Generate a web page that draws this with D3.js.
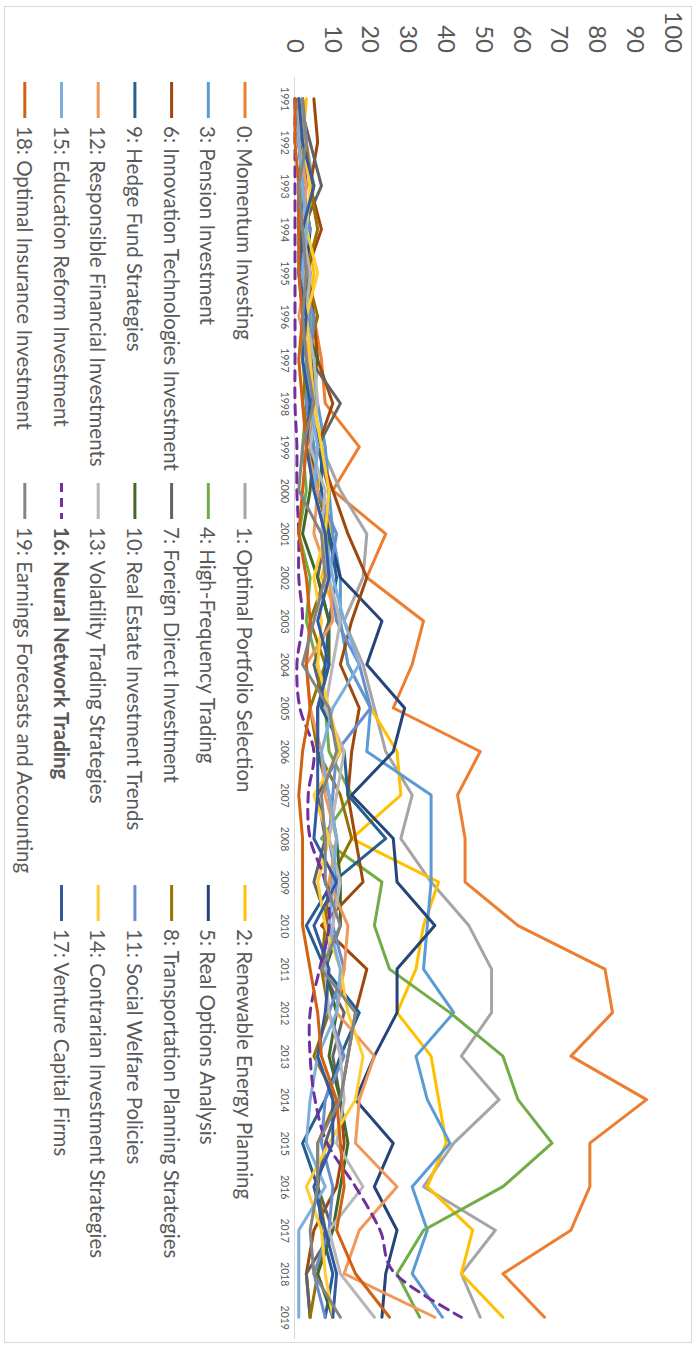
<!DOCTYPE html>
<html>
<head>
<meta charset="utf-8">
<script src="https://cdn.jsdelivr.net/npm/d3@7"></script>
<style>
  html, body { margin: 0; padding: 0; background: #fff; }
  svg { display: block; }
  text { font-family: Lato, "Open Sans", sans-serif; fill: #595959; }
</style>
</head>
<body>
<svg id="chart" width="696" height="1349"></svg>
<script>
const years = d3.range(1991, 2020);
const valueTicks = [0,10,20,30,40,50,60,70,80,90,100];

const seriesNames = [
  "0: Momentum Investing", "1: Optimal Portfolio Selection", "2: Renewable Energy Planning",
  "3: Pension Investment", "4: High-Frequency Trading", "5: Real Options Analysis",
  "6: Innovation Technologies Investment", "7: Foreign Direct Investment", "8: Transportation Planning Strategies",
  "9: Hedge Fund Strategies", "10: Real Estate Investment Trends", "11: Social Welfare Policies",
  "12: Responsible Financial Investments", "13: Volatility Trading Strategies", "14: Contrarian Investment Strategies",
  "15: Education Reform Investment", "16: Neural Network Trading", "17: Venture Capital Firms",
  "18: Optimal Insurance Investment", "19: Earnings Forecasts and Accounting"
];
const seriesColors = [
  "#ED7D31", "#A5A5A5", "#FFC000", "#5B9BD5", "#70AD47", "#264478",
  "#9E480E", "#636363", "#997300", "#255E91", "#43682B", "#698ED0",
  "#F1975A", "#B7B7B7", "#FFCD33", "#7CAFDD", "#7030A0", "#335AA1",
  "#D26012", "#848484"
];

const s0  = [1,2,1,2,3,5,7,8,17,10,24,19,34,31,26,49,43,45,45,59,82,84,73,93,78,78,73,55,66];
const s1  = [2,3,5,3,4,4,6,5,7,12,19,18,13,18,21,24,31,28,36,46,52,52,44,54,42,34,53,44,49];
const s2  = [3,2,5,3,5,4,6,4,8,6,10,7,12,14,20,27,28,15,38,34,32,27,36,38,40,35,47,44,55];
const s3  = [1,2,2,3,2,4,4,6,8,9,10,12,12,14,20,19,36,36,36,35,34,42,32,35,41,31,35,31,39];
const s4  = [0,1,2,1,1,2,2,3,2,3,1,4,3,6,8,9,15,7,23,21,25,41,55,59,68,55,34,27,33];
const s5  = [2,1,2,4,3,3,5,4,3,6,9,12,23,19,29,26,15,26,27,37,27,27,21,16,26,21,27,24,23];
const s6  = [5,6,4,7,3,5,6,10,6,10,14,19,15,12,17,15,14,16,18,7,19,16,14,12,13,11,5,3,4];
const s7  = [1,4,7,2,2,3,4,12,6,9,8,6,9,5,8,12,6,8,5,9,7,13,10,12,8,6,10,3,4];
const s8  = [2,3,4,6,3,6,3,2,4,6,9,8,4,8,4,6,12,15,9,8,7,9,5,11,6,6,8,6,4];
const s9  = [0,2,3,1,2,3,5,3,7,7,9,11,9,8,7,13,14,24,10,3,8,17,12,8,2,6,7,10,8];
const s10 = [1,2,1,1,4,2,6,3,5,4,2,6,9,9,6,6,9,11,12,12,8,11,9,12,14,12,10,6,10];
const s11 = [1,3,2,4,1,5,4,3,5,6,11,9,11,17,20,11,10,9,11,10,13,9,13,8,7,10,9,5,8];
const s12 = [1,1,3,2,3,1,4,5,3,6,5,9,10,3,4,7,8,11,9,14,13,11,21,17,16,27,17,13,37];
const s13 = [2,3,1,2,4,3,5,6,4,8,7,9,12,10,8,13,11,9,12,10,8,9,12,13,11,18,9,12,21];
const s14 = [1,2,4,3,6,3,4,5,7,9,8,5,7,6,9,12,5,9,6,8,12,14,18,16,9,3,7,8,10];
const s15 = [0,1,2,3,2,2,3,4,6,5,8,10,13,17,10,7,9,11,10,9,12,11,6,4,3,8,1,1,1];
const s16 = [0,0,0,0,0,0,0,0,0.5,0.5,1,1,2,0.5,1.3,5,3.5,4,8,9,6.5,4,4,5.3,8.5,16,22.5,26.5,44];
const s17 = [1,2,5,2,1,3,2,4,3,5,8,9,6,9,6,6,6,5,11,5,9,8,6,10,10,5,8,11,10];
const s18 = [0,0,1,1,1,2,1,2,3,2,1,3,4,3,4,2,1,2,2,2,4,6,7,11,12,13,11,16,25];
const s19 = [2,3,1,2,3,2,3,5,2,1,7,8,5,2,9,11,7,8,8,12,7,16,14,12,6,6,4,5,12];

const seriesValues = [s0,s1,s2,s3,s4,s5,s6,s7,s8,s9,s10,s11,s12,s13,s14,s15,s16,s17,s18,s19];
const highlighted = 16;

// ---- layout in the chart's own (landscape) frame, then rotated onto the page ----
const W = 1349, H = 696;
const svg = d3.select("#chart");
const root = svg.append("g").attr("transform", `translate(${H},0) rotate(90)`);

// chart border
root.append("rect")
  .attr("x", 6.5).attr("y", 4.5).attr("width", W - 13).attr("height", H - 9)
  .attr("fill", "#fff").attr("stroke", "#D9D9D9").attr("stroke-width", 1);

const x = d3.scalePoint().domain(years).range([77, 1339]).padding(0.5);
const y = d3.scaleLinear().domain([0, 100]).range([401, 23]);

// value axis (labels only)
const yAxis = d3.axisLeft(y).tickValues(valueTicks).tickSize(0).tickPadding(9);
const yg = root.append("g").attr("transform", "translate(62,0)").call(yAxis);
yg.select(".domain").remove();
yg.selectAll("text").style("font-size", "24px").attr("fill", "#595959")
  .style("font-family", "Lato, sans-serif");

// category axis
const xAxis = d3.axisBottom(x).tickSize(0).tickPadding(7);
const xg = root.append("g").attr("transform", "translate(0,401)").call(xAxis);
xg.select(".domain").attr("stroke", "#D9D9D9").attr("stroke-width", 1)
  .attr("d", `M${77},0.5H${1339}`);
xg.selectAll("text").style("font-size", "10.5px").attr("fill", "#595959")
  .style("font-family", "Lato, sans-serif");

// lines
const line = d3.line().x((d, i) => x(years[i])).y(d => y(d));
const smoothLine = d3.line().x((d, i) => x(years[i])).y(d => y(d)).curve(d3.curveCatmullRom.alpha(0));
const lines = root.append("g");
seriesValues.forEach((vals, k) => {
  lines.append("path")
    .datum(vals)
    .attr("d", k === highlighted ? smoothLine : line)
    .attr("fill", "none")
    .attr("stroke", seriesColors[k])
    .attr("stroke-width", 3)
    .attr("stroke-linejoin", "round")
    .attr("stroke-linecap", "round")
    .attr("stroke-dasharray", k === highlighted ? "10,7" : null);
});

// legend: 7 rows x 3 columns
const colX = [82, 483, 885];
const rowY = d3.range(7).map(r => 451 + r * 36.7);
const leg = root.append("g");
seriesNames.forEach((name, k) => {
  const c = k % 3, r = Math.floor(k / 3);
  const gx = colX[c], gy = rowY[r];
  leg.append("line")
    .attr("x1", gx).attr("x2", gx + 36)
    .attr("y1", gy).attr("y2", gy)
    .attr("stroke", seriesColors[k]).attr("stroke-width", 3)
    .attr("stroke-dasharray", k === highlighted ? "9,6" : null);
  leg.append("text")
    .attr("x", gx + 44).attr("y", gy)
    .attr("dominant-baseline", "central")
    .style("font-size", "20.5px")
    .style("font-weight", k === highlighted ? "bold" : "normal")
    .text(name);
});
</script>
</body>
</html>
